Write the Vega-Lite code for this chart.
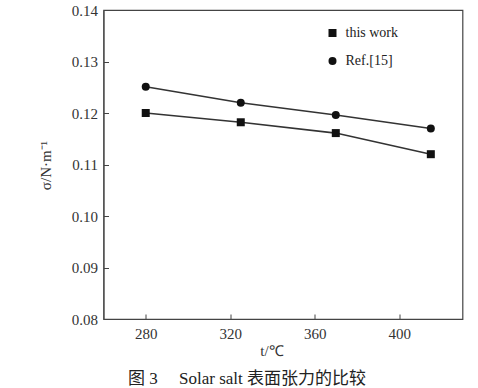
{
  "$schema": "https://vega.github.io/schema/vega-lite/v6.json",
  "width": 359,
  "height": 309,
  "autosize": {"type": "none"},
  "padding": {"left": 103.5, "top": 10, "right": 15, "bottom": 69},
  "background": "white",
  "title": {
    "text": "图  3　 Solar salt 表面张力的比较",
    "orient": "bottom",
    "anchor": "middle",
    "dx": -36,
    "offset": 13,
    "baseline": "top",
    "font": "Liberation Serif, Noto Sans CJK SC",
    "fontSize": 17,
    "fontWeight": "normal",
    "color": "#222"
  },
  "config": {
    "view": {"stroke": "#444", "strokeWidth": 1.2},
    "font": "Liberation Serif",
    "axis": {
      "grid": false,
      "domainColor": "#444",
      "tickColor": "#444",
      "labelColor": "#333",
      "titleColor": "#333",
      "labelFont": "Liberation Serif",
      "titleFont": "Liberation Serif",
      "labelFontSize": 15,
      "titleFontSize": 15,
      "titleFontWeight": "normal",
      "tickSize": -5
    }
  },
  "data": {
    "values": [
      {"t": 280, "sigma": 0.1200, "series": "this work"},
      {"t": 325, "sigma": 0.1182, "series": "this work"},
      {"t": 370, "sigma": 0.1161, "series": "this work"},
      {"t": 415, "sigma": 0.1120, "series": "this work"},
      {"t": 280, "sigma": 0.1251, "series": "Ref.[15]"},
      {"t": 325, "sigma": 0.1220, "series": "Ref.[15]"},
      {"t": 370, "sigma": 0.1196, "series": "Ref.[15]"},
      {"t": 415, "sigma": 0.1170, "series": "Ref.[15]"}
    ]
  },
  "encoding": {
    "x": {
      "field": "t", "type": "quantitative",
      "scale": {"domain": [260, 430], "nice": false, "zero": false},
      "axis": {"values": [280, 320, 360, 400], "title": "t/℃", "labelPadding": 12, "titleX": 168, "titleY": 36, "titleBaseline": "alphabetic"}
    },
    "y": {
      "field": "sigma", "type": "quantitative",
      "scale": {"domain": [0.08, 0.14], "nice": false, "zero": false},
      "axis": {"values": [0.08, 0.09, 0.10, 0.11, 0.12, 0.13, 0.14], "format": ".2f", "title": "σ/N·m⁻¹", "labelPadding": 11, "titleX": -58, "titleY": 155, "titleAngle": -90, "titleAlign": "center", "titleBaseline": "middle"}
    }
  },
  "layer": [
    {
      "mark": {"type": "line", "color": "#333", "strokeWidth": 1.6},
      "encoding": {"detail": {"field": "series"}}
    },
    {
      "mark": {"type": "point", "filled": true, "color": "#111", "opacity": 1, "size": 64},
      "encoding": {
        "shape": {
          "field": "series", "type": "nominal",
          "scale": {"domain": ["this work", "Ref.[15]"], "range": ["square", "circle"]},
          "legend": {
            "title": null, "orient": "none", "legendX": 222, "legendY": 16,
            "padding": 0, "rowPadding": 14, "symbolSize": 64,
            "symbolFillColor": "#111", "symbolStrokeColor": "#111",
            "labelFont": "Liberation Serif", "labelFontSize": 14, "labelColor": "#222", "labelOffset": 6
          }
        }
      }
    }
  ]
}
